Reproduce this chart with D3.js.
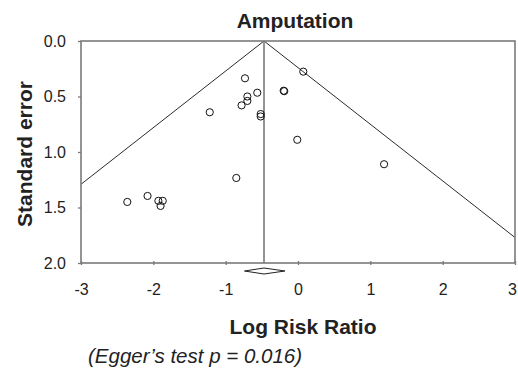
<!DOCTYPE html>
<html>
<head>
<meta charset="utf-8">
<script src="https://cdn.jsdelivr.net/npm/d3@7"></script>
<style>
  html, body { margin: 0; padding: 0; background: #fff; }
  svg { display: block; font-family: "Liberation Sans", Arial, Helvetica, sans-serif; }
</style>
</head>
<body>
<svg id="chart" width="518" height="373"></svg>
<script>
// Study estimates: log risk ratio and its standard error
const logRR = [-0.733, -0.563, -0.70, -0.70, -0.78, -1.22, -0.516, -0.516, -0.198, -0.19,
               0.073, -0.01, 1.19, -0.853, -2.36, -2.08, -1.93, -1.87, -1.90];
const stdErr = [0.336, 0.466, 0.50, 0.54, 0.58, 0.642, 0.658, 0.68, 0.448, 0.452,
                0.276, 0.89, 1.11, 1.234, 1.45, 1.396, 1.44, 1.44, 1.486];

// Pooled estimate with its 95% confidence interval
const pooled = [-0.47];
const pooledCI = [-0.74, -0.18];

const xTicks = [-3, -2, -1, 0, 1, 2, 3];
const yTicks = [0.0, 0.5, 1.0, 1.5, 2.0];

const titleText = "Amputation";
const xTitle = "Log Risk Ratio";
const yTitle = "Standard error";
const noteText = "(Egger\u2019s test p = 0.016)";

const svg = d3.select("#chart");
const m = { left: 81, right: 3, top: 41, bottom: 110 };
const W = 518, H = 373;
const x = d3.scaleLinear().domain([-3, 3]).range([m.left, W - m.right]);
const y = d3.scaleLinear().domain([0, 2]).range([m.top, H - m.bottom]);

const axisColor = "#7a7a7a";
const textColor = "#222";

// Pseudo 95% confidence funnel around the pooled estimate
const p = pooled[0];
const seMax = 2;
const funnel = [
  [[p, 0], [p - 1.96 * seMax, seMax]],
  [[p, 0], [p + 1.96 * seMax, seMax]]
];
svg.append("defs").append("clipPath").attr("id", "plotClip")
  .append("rect").attr("x", x(-3)).attr("y", y(0)).attr("width", x(3) - x(-3)).attr("height", y(2) - y(0));

const line = d3.line().x(d => x(d[0])).y(d => y(d[1]));
svg.append("g").attr("clip-path", "url(#plotClip)")
  .selectAll("path").data(funnel).join("path")
  .attr("d", line).attr("fill", "none").attr("stroke", "#2a2a2a").attr("stroke-width", 1);

// Vertical line at the pooled estimate
svg.append("line")
  .attr("x1", x(p)).attr("x2", x(p)).attr("y1", y(0)).attr("y2", y(2))
  .attr("stroke", axisColor).attr("stroke-width", 1.6);

// Plot frame
svg.append("rect")
  .attr("x", x(-3)).attr("y", y(0)).attr("width", x(3) - x(-3)).attr("height", y(2) - y(0))
  .attr("fill", "none").attr("stroke", axisColor).attr("stroke-width", 1.6);

// Axes
const xAxis = svg.append("g").attr("transform", `translate(0,${y(2)})`)
  .call(d3.axisBottom(x).tickValues(xTicks).tickFormat(d => String(d)).tickSize(3).tickPadding(18));
const yAxis = svg.append("g").attr("transform", `translate(${x(-3)},0)`)
  .call(d3.axisLeft(y).tickValues(yTicks).tickFormat(d3.format(".1f")).tickSize(3).tickPadding(12));
[xAxis, yAxis].forEach(g => {
  g.select(".domain").remove();
  g.selectAll(".tick line").attr("stroke", axisColor).attr("stroke-width", 1.3);
  g.selectAll(".tick text").attr("fill", textColor).style("font-size", "16px")
    .style("font-family", "Liberation Sans, Arial, sans-serif");
});
xAxis.selectAll(".tick line").attr("y1", -2).attr("y2", 2);
xAxis.selectAll(".tick text").filter(d => d === 3).attr("dx", -3);

// Pooled-estimate diamond below the axis
const dy = y(2) + 8;
const diamond = [[pooledCI[0], 0], [p, -3], [pooledCI[1], 0], [p, 3]];
svg.append("path")
  .attr("d", "M" + diamond.map(d => [x(d[0]), dy + d[1]].join(",")).join("L") + "Z")
  .attr("fill", "#fff").attr("stroke", textColor).attr("stroke-width", 1);

// Study points
svg.append("g").selectAll("circle").data(logRR.map((v, i) => [v, stdErr[i]])).join("circle")
  .attr("cx", d => x(d[0])).attr("cy", d => y(d[1])).attr("r", 3.6)
  .attr("fill", "none").attr("stroke", "#111").attr("stroke-width", 1);

// Titles
svg.append("text").attr("x", 295).attr("y", 28).attr("text-anchor", "middle")
  .style("font-size", "21px").style("font-weight", "bold").attr("fill", textColor).text(titleText);
svg.append("text").attr("x", 303).attr("y", 334).attr("text-anchor", "middle")
  .style("font-size", "21px").style("font-weight", "bold").attr("fill", textColor).text(xTitle);
svg.append("text").attr("transform", `translate(32,${(y(0) + y(2)) / 2 + 2}) rotate(-90)`).attr("text-anchor", "middle")
  .style("font-size", "21px").style("font-weight", "bold").attr("fill", textColor).text(yTitle);
svg.append("text").attr("x", 88).attr("y", 363)
  .style("font-size", "20.5px").style("font-style", "italic").attr("fill", textColor).text(noteText);
</script>
</body>
</html>
